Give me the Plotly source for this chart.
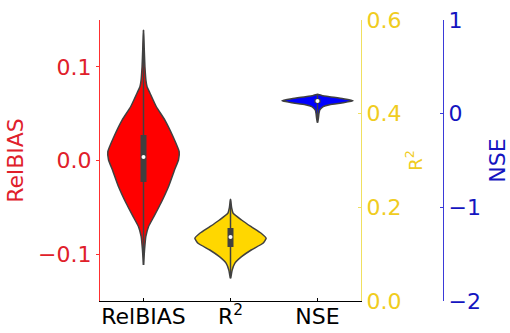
import plotly.graph_objects as go

categories = ["RelBIAS", "R<sup>2</sup>", "NSE"]

# Violin density profiles: value levels and relative half-widths
relbias_levels = [0.1393, 0.12, 0.10, 0.085, 0.0788, 0.0721, 0.0574, 0.0432, 0.0254, 0.0094, 0.0005,
                  -0.0102, -0.028, -0.0454, -0.06, -0.0707, -0.0814, -0.095, -0.1116]
relbias_width = [0, 0.02, 0.04, 0.07, 0.1, 0.18, 0.36, 0.6, 0.83, 1.0, 0.98,
                 0.87, 0.7, 0.49, 0.29, 0.14, 0.065, 0.03, 0]
relbias_box = [-0.0229, 0.0272]
relbias_median = 0.0037

r2_levels = [0.2172, 0.20, 0.1873, 0.173, 0.1586, 0.1446, 0.1339, 0.1232, 0.1089, 0.0946,
             0.0805, 0.0662, 0.055, 0.0485]
r2_width = [0, 0.03, 0.075, 0.31, 0.58, 0.86, 1.0, 0.91, 0.58, 0.31, 0.12, 0.047, 0.02, 0]
r2_box = [0.1153, 0.1559]
r2_median = 0.1367

nse_levels = [0.2068, 0.195, 0.1811, 0.1598, 0.1384, 0.1171, 0.0957, 0.0744, 0.0391, 0.0,
              -0.05, -0.0964]
nse_width = [0, 0.12, 0.34, 0.72, 1.0, 0.72, 0.34, 0.16, 0.065, 0.04, 0.025, 0]
nse_box = [0.114, 0.157]
nse_median = 0.135

RED_TXT = "#e0202a"
YEL_TXT = "#f0cc20"
BLU_TXT = "#1414c0"
OUTLINE = "#404040"
FONT = "DejaVu Sans"

fig = go.Figure()

violins = [
    (0, relbias_levels, relbias_width, relbias_box, relbias_median, "red", "y"),
    (1, r2_levels, r2_width, r2_box, r2_median, "gold", "y2"),
    (2, nse_levels, nse_width, nse_box, nse_median, "blue", "y3"),
]
HW = 0.41
for pos, lev, wid, box, med, col, ax in violins:
    xs = [pos + HW * w for w in wid] + [pos - HW * w for w in reversed(wid)]
    ys = list(lev) + list(reversed(lev))
    fig.add_trace(go.Scatter(x=xs, y=ys, yaxis=ax, mode="lines", fill="toself",
                             fillcolor=col, line=dict(color=OUTLINE, width=1.5, shape="spline", smoothing=0.4),
                             hoverinfo="skip"))
    fig.add_trace(go.Scatter(x=[pos, pos], y=[lev[-1], lev[0]], yaxis=ax, mode="lines",
                             line=dict(color=OUTLINE, width=1.5), hoverinfo="skip"))
    fig.add_trace(go.Scatter(x=[pos, pos], y=box, yaxis=ax, mode="lines",
                             line=dict(color=OUTLINE, width=6), hoverinfo="skip"))
    fig.add_trace(go.Scatter(x=[pos], y=[med], yaxis=ax, mode="markers",
                             marker=dict(color="white", size=4), hoverinfo="skip"))

ydom = [32 / 333, 313 / 333]
fig.update_layout(
    width=510, height=333,
    margin=dict(l=0, r=0, t=0, b=0),
    paper_bgcolor="white", plot_bgcolor="white",
    showlegend=False,
    font=dict(family=FONT, size=22),
    xaxis=dict(domain=[100 / 510, 361 / 510], range=[-0.5, 2.5], tickvals=[0, 1, 2],
               ticktext=categories, showline=True, linecolor="black", linewidth=1,
               ticks="inside", ticklen=3, tickcolor="black", showgrid=False, zeroline=False,
               tickfont=dict(size=22, color="black"), ticklabelstandoff=-4, automargin=False),
    yaxis=dict(domain=ydom, range=[-0.15, 0.15], tickvals=[-0.1, 0.0, 0.1],
               ticktext=["−0.1", "0.0", "0.1"], showline=True, linecolor="#ff3030", linewidth=1.3,
               ticks="outside", ticklen=3, tickcolor="#ff3030", showgrid=False, zeroline=False,
               tickfont=dict(size=22, color=RED_TXT),
               title=dict(text="RelBIAS", font=dict(size=22, color=RED_TXT), standoff=8),
               automargin=False),
    yaxis2=dict(domain=ydom, overlaying="y", side="right", anchor="x", range=[0, 0.6],
                tickvals=[0, 0.2, 0.4, 0.6], ticktext=["0.0", "0.2", "0.4", "0.6"],
                showline=True, linecolor="#f0e060", linewidth=1.3, ticks="inside", ticklen=3,
                tickcolor="#f0e060", showgrid=False, zeroline=False,
                tickfont=dict(size=22, color=YEL_TXT),
                title=dict(text="R<sup>2</sup>", font=dict(size=18, color=YEL_TXT), standoff=8),
                automargin=False),
    yaxis3=dict(domain=ydom, overlaying="y", side="right", anchor="free", position=443 / 510,
                range=[-2, 1], tickvals=[-2, -1, 0, 1], ticktext=["−2", "−1", "0", "1"],
                showline=True, linecolor="#3a3ad8", linewidth=1.3, ticks="inside", ticklen=3,
                tickcolor="#3a3ad8", showgrid=False, zeroline=False,
                tickfont=dict(size=22, color=BLU_TXT),
                title=dict(text="NSE", font=dict(size=22, color=BLU_TXT), standoff=12),
                automargin=False),
    annotations=[dict(text="(c)", xref="paper", yref="paper", x=0.0, y=1 - 4 / 333,
                      xanchor="left", yanchor="bottom", showarrow=False,
                      font=dict(size=22, color="#444444"))],
)

fig.write_html("out.html")
